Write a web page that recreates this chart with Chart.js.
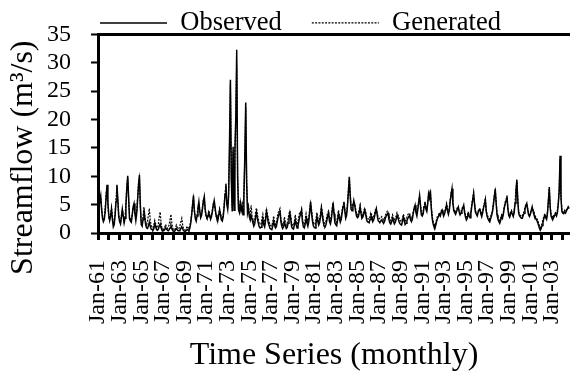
<!DOCTYPE html>
<html>
<head>
<meta charset="utf-8">
<script src="https://cdn.jsdelivr.net/npm/chart.js@4.4.1/dist/chart.umd.min.js"></script>
<style>
html,body{margin:0;padding:0;background:#fff;overflow:hidden}
canvas{display:block}
</style>
</head>
<body>
<canvas id="c" width="570" height="376"></canvas>
<script>
// Tick labels (one every 24 months starting Jan-1961)
const tickLabels = ['Jan-61','Jan-63','Jan-65','Jan-67','Jan-69','Jan-71','Jan-73','Jan-75','Jan-77','Jan-79','Jan-81',
                    'Jan-83','Jan-85','Jan-87','Jan-89','Jan-91','Jan-93','Jan-95','Jan-97','Jan-99','Jan-01','Jan-03'];
const seriesNames = ['Observed', 'Generated'];

// Monthly streamflow (m3/s), Jan-1961 onward, one row per year
const observed = [
  3.2,4.5,5.8,6.6,4.1,2.6,2.0,2.4,3.8,6.2,8.5,5.4,      // 1961
  3.1,2.2,3.0,4.1,2.4,1.1,1.5,3.2,5.6,8.5,6.0,2.9,      // 1962
  2.0,1.6,2.8,4.2,3.0,1.8,2.6,4.8,7.9,10.1,6.3,2.5,     // 1963
  2.1,1.9,3.3,4.6,5.2,3.4,2.2,3.5,5.9,8.4,10.2,5.0,     // 1964
  1.5,1.2,2.4,4.1,2.6,1.4,0.9,0.8,1.3,1.9,1.2,0.7,      // 1965
  0.6,0.5,0.8,1.7,1.1,0.6,0.5,0.7,1.2,1.6,0.9,0.5,      // 1966
  0.4,0.4,0.6,0.9,0.7,0.5,0.4,0.6,0.9,1.3,0.8,0.4,      // 1967
  0.3,0.3,0.5,0.8,0.6,0.4,0.4,0.5,0.8,1.1,0.7,0.4,      // 1968
  0.3,0.3,0.4,0.6,0.5,0.4,0.9,1.8,3.2,4.9,6.6,4.0,      // 1969
  2.6,2.1,3.0,4.4,5.5,3.9,2.7,3.1,4.3,5.6,6.4,4.2,      // 1970
  3.1,2.7,2.8,3.6,3.0,2.4,2.9,3.8,4.9,5.7,4.5,3.2,      // 1971
  2.5,2.2,3.1,4.0,3.2,2.3,2.1,2.9,4.5,6.8,8.7,5.1,      // 1972
  4.2,6.5,15.8,27.0,9.5,3.8,15.2,4.0,14.6,20.5,32.3,9.8,// 1973
  4.1,3.6,5.2,3.9,4.6,3.2,6.8,13.5,23.0,9.0,3.5,4.3,    // 1974
  2.9,2.3,3.1,2.4,1.8,1.2,1.6,2.9,3.6,2.5,1.7,1.1,      // 1975
  0.9,1.0,1.6,2.4,1.5,1.1,2.2,3.8,2.9,1.8,1.3,0.8,      // 1976
  0.7,0.6,1.2,2.1,1.4,0.9,1.1,2.0,2.8,3.4,4.0,2.1,      // 1977
  1.2,0.8,1.1,1.9,1.3,0.8,1.0,1.7,2.6,3.5,2.4,1.1,      // 1978
  0.8,0.7,1.4,2.3,1.5,0.9,1.2,2.1,2.9,3.3,4.0,2.0,      // 1979
  1.1,0.9,1.5,2.6,1.8,1.2,2.0,3.6,5.5,3.7,2.2,1.3,      // 1980
  1.0,0.9,1.7,2.9,2.1,1.4,1.8,2.8,4.3,3.2,2.0,1.2,      // 1981
  1.1,1.4,2.2,3.0,3.5,2.0,1.6,2.4,3.8,5.3,3.4,1.8,      // 1982
  1.5,1.3,2.3,3.4,2.6,1.9,2.4,3.5,4.6,5.5,3.9,2.6,      // 1983
  3.1,4.8,7.2,9.9,6.5,4.2,3.9,4.6,5.7,4.9,3.8,3.0,      // 1984
  2.7,2.9,3.6,4.6,3.4,2.6,2.8,3.3,4.1,3.5,2.5,2.0,      // 1985
  1.9,1.8,2.4,3.1,2.6,2.0,2.3,2.9,3.7,4.3,3.1,2.2,      // 1986
  2.0,1.9,2.1,2.3,2.0,1.7,2.0,2.6,3.0,3.3,3.5,2.4,      // 1987
  1.8,1.6,2.0,2.6,2.1,1.6,1.9,2.4,3.1,2.7,2.1,1.7,      // 1988
  1.5,1.4,2.0,2.8,2.2,1.5,1.7,2.2,2.6,2.9,3.1,2.3,      // 1989
  2.0,2.4,3.5,4.3,4.9,3.6,3.0,4.1,5.4,6.6,4.8,3.2,      // 1990
  3.0,3.4,4.6,5.5,4.2,3.8,5.1,6.9,6.2,7.5,4.4,2.6,      // 1991
  1.6,1.1,0.8,1.4,2.1,2.6,2.9,3.3,3.0,3.6,4.0,3.4,      // 1992
  3.1,3.5,4.2,4.9,3.9,3.3,4.0,5.6,6.8,7.8,5.2,3.9,      // 1993
  3.6,3.3,3.8,4.2,4.6,3.7,3.2,3.5,4.0,4.4,4.9,3.6,      // 1994
  2.8,2.3,2.6,3.4,3.0,2.7,3.5,4.8,5.9,6.9,5.1,3.7,      // 1995
  3.3,3.0,3.6,4.0,4.3,3.4,2.9,3.6,4.4,5.1,5.9,3.8,      // 1996
  2.9,2.5,2.2,2.0,2.6,3.1,3.8,5.0,6.4,7.8,5.3,3.2,      // 1997
  2.4,2.0,1.7,2.2,2.9,2.6,3.3,4.4,5.1,5.7,6.6,4.3,      // 1998
  3.1,2.8,3.4,3.7,3.3,2.9,3.6,5.2,7.3,9.4,5.8,3.5,      // 1999
  3.0,2.8,2.6,2.6,3.1,3.5,4.2,4.8,5.2,4.1,3.2,2.9,      // 2000
  3.3,3.9,4.6,3.8,3.2,2.9,2.5,2.3,1.9,1.4,0.9,0.5,      // 2001
  0.8,1.3,1.9,2.6,3.1,2.7,2.4,3.5,5.6,8.1,4.5,3.0,      // 2002
  2.6,2.4,2.8,3.1,3.4,3.0,3.6,5.1,7.4,13.6,6.2,3.8,     // 2003
  3.5,3.4,3.7,3.5,3.9,4.2,4.6,4.3                       // 2004 (Jan-Aug)
];

const generated = [
  2.8,3.9,5.1,6.2,4.6,3.0,2.2,2.9,4.4,6.9,8.1,4.8,      // 1961
  2.6,2.5,3.4,4.6,3.1,1.6,1.9,3.6,6.1,8.2,5.5,3.3,      // 1962
  2.4,1.9,3.1,4.0,3.3,2.1,2.9,5.2,8.4,9.6,5.8,2.9,      // 1963
  2.5,2.2,3.0,4.3,5.0,3.8,2.6,3.9,6.3,8.9,9.8,4.6,      // 1964
  2.0,1.6,2.9,4.6,3.1,1.9,1.5,2.1,3.2,4.3,2.4,1.3,      // 1965
  1.0,0.9,1.4,2.2,1.6,1.0,0.9,1.6,2.8,3.7,1.9,0.9,      // 1966
  0.7,0.6,1.0,1.5,1.1,0.8,0.9,1.5,2.4,3.3,1.6,0.8,      // 1967
  0.6,0.5,0.9,1.4,1.0,0.7,0.8,1.3,2.0,2.6,1.4,0.7,      // 1968
  0.6,0.5,0.8,1.2,0.9,0.7,1.3,2.2,3.5,5.2,6.2,3.6,      // 1969
  2.9,2.4,3.3,4.7,5.2,3.5,3.0,3.5,4.6,5.9,6.1,3.9,      // 1970
  2.8,2.5,3.1,3.9,3.3,2.7,3.2,4.1,5.2,5.4,4.1,3.0,      // 1971
  2.7,2.5,3.4,4.3,3.5,2.6,2.4,3.3,4.8,7.1,8.3,4.8,      // 1972
  4.6,7.0,15.2,26.3,10.2,4.4,14.3,4.8,13.9,19.8,29.6,10.5, // 1973
  4.7,4.2,5.8,4.5,5.2,3.8,7.3,12.8,22.1,9.6,4.2,4.9,    // 1974
  3.6,2.9,4.9,3.1,2.4,1.9,2.3,3.8,4.4,3.2,2.5,1.7,      // 1975
  1.5,1.6,2.5,3.3,2.2,1.6,2.9,4.3,3.5,2.6,2.0,1.4,      // 1976
  1.3,1.2,2.0,3.0,2.1,1.5,1.8,2.8,3.6,3.9,4.3,2.7,      // 1977
  1.8,1.4,1.9,2.8,2.0,1.4,1.7,2.5,3.4,3.9,3.0,1.7,      // 1978
  1.4,1.3,2.1,3.2,2.2,1.5,1.9,2.9,3.7,3.6,4.2,2.5,      // 1979
  1.7,1.5,2.3,3.4,2.5,1.8,2.7,4.2,5.3,4.2,2.8,1.9,      // 1980
  1.6,1.5,2.4,3.6,2.8,2.0,2.5,3.5,4.7,3.8,2.6,1.8,      // 1981
  1.7,2.0,2.9,3.6,3.9,2.6,2.2,3.1,4.3,5.1,3.8,2.4,      // 1982
  2.1,1.9,2.9,4.0,3.2,2.5,3.0,4.1,5.0,5.2,4.3,3.1,      // 1983
  3.5,5.3,7.8,9.6,7.0,4.7,4.4,5.1,5.4,5.2,4.3,3.5,      // 1984
  3.2,3.4,4.1,4.9,3.9,3.1,3.3,3.8,4.4,3.9,3.0,2.6,      // 1985
  2.5,2.4,3.0,3.6,3.1,2.6,2.9,3.4,4.1,4.0,3.5,2.8,      // 1986
  2.6,2.5,2.7,2.9,2.6,2.3,2.6,3.1,3.5,3.8,3.3,2.9,      // 1987
  2.4,2.2,2.6,3.2,2.7,2.2,2.5,3.0,3.6,3.2,2.7,2.3,      // 1988
  2.1,2.0,2.6,3.3,2.8,2.1,2.3,2.8,3.2,3.5,3.4,2.9,      // 1989
  2.6,2.9,3.8,4.6,4.7,3.9,3.4,4.4,5.6,6.4,5.1,3.6,      // 1990
  3.4,3.8,4.9,5.2,4.6,4.1,5.4,6.6,6.5,7.2,4.8,3.0,      // 1991
  2.1,1.6,1.3,1.9,2.5,3.0,3.2,3.6,3.4,3.9,4.2,3.7,      // 1992
  3.4,3.8,4.5,5.2,4.2,3.6,4.3,5.8,7.1,7.5,5.5,4.2,      // 1993
  3.9,3.6,4.1,4.5,4.3,3.9,3.5,3.8,4.3,4.7,4.6,3.9,      // 1994
  3.2,2.8,3.0,3.7,3.4,3.1,3.8,5.0,6.2,7.2,5.4,4.0,      // 1995
  3.6,3.3,3.9,4.3,4.1,3.7,3.3,3.9,4.7,5.3,6.1,4.1,      // 1996
  3.2,2.9,2.6,2.5,3.0,3.4,4.1,5.3,6.7,7.5,5.6,3.5,      // 1997
  2.8,2.4,2.2,2.6,3.2,2.9,3.6,4.7,5.4,6.0,6.3,4.6,      // 1998
  3.4,3.1,3.7,4.0,3.6,3.2,3.9,5.5,7.6,9.1,6.1,3.8,      // 1999
  3.3,3.1,2.9,3.0,3.4,3.8,4.5,5.1,5.0,4.4,3.5,3.2,      // 2000
  3.6,4.2,4.4,4.1,3.5,3.2,2.8,2.6,2.3,1.8,1.3,0.9,      // 2001
  1.2,1.7,2.3,2.9,3.4,3.0,2.7,3.8,5.9,7.8,4.8,3.3,      // 2002
  2.9,2.7,3.1,3.4,3.6,3.3,3.9,5.4,7.7,13.1,6.5,4.1,     // 2003
  3.8,3.6,4.0,3.8,4.1,4.4,4.5,4.6                       // 2004 (Jan-Aug)
];

const FONT = "'Liberation Serif', 'Times New Roman', Times, serif";

new Chart(document.getElementById('c'), {
  type: 'line',
  data: {
    datasets: [
      { label: seriesNames[0], data: observed.map((v, i) => ({ x: i, y: v })),
        borderColor: '#000', backgroundColor: '#000', borderWidth: 1.5, borderDash: [],
        pointRadius: 0, pointHoverRadius: 0, pointStyle: 'line', tension: 0, fill: false },
      { label: seriesNames[1], data: generated.map((v, i) => ({ x: i, y: v })),
        borderColor: '#000', backgroundColor: '#000', borderWidth: 1.2, borderDash: [2, 1.3],
        pointRadius: 0, pointHoverRadius: 0, pointStyle: 'line', tension: 0, fill: false }
    ]
  },
  options: {
    responsive: false,
    animation: false,
    devicePixelRatio: 1,
    layout: { padding: { left: 0, right: -31, top: -22.7, bottom: 0 } },
    plugins: {
      tooltip: { enabled: false },
      legend: {
        display: true, position: 'top', align: 'center', maxHeight: 54.7,
        labels: {
          usePointStyle: true, pointStyleWidth: 67, padding: 30, color: '#000',
          font: { family: FONT, size: 26.5 },
          generateLabels: (chart) => Chart.defaults.plugins.legend.labels.generateLabels(chart).map(it => {
            const ds = chart.data.datasets[it.datasetIndex];
            return Object.assign(it, { lineDash: ds.borderDash || [], lineWidth: ds.borderWidth,
              strokeStyle: ds.borderColor, pointStyle: 'line' });
          })
        }
      }
    },
    scales: {
      x: {
        type: 'linear', min: 0, max: 524,
        border: { display: true, color: '#000', width: 3 },
        grid: { display: true, drawOnChartArea: false, drawTicks: true, tickLength: 7, tickColor: '#000', tickWidth: 3 },
        ticks: {
          stepSize: 12, includeBounds: false, autoSkip: false, maxRotation: 90, minRotation: 90,
          padding: 20, color: '#000', font: { family: FONT, size: 24 },
          callback: (v) => (v % 24 === 0 ? (tickLabels[v / 24] ?? '') : '')
        },
        title: { display: true, text: 'Time Series (monthly)', color: '#000',
          font: { family: FONT, size: 32 }, padding: { top: 0, bottom: 1 } },
        afterFit: (s) => { s.height = 143; s.paddingLeft = 0; s.paddingRight = 0; }
      },
      y: {
        min: 0, max: 35,
        border: { display: true, color: '#000', width: 3 },
        grid: {
          color: (c) => (c.tick && c.tick.value === 35 ? '#000' : 'rgba(0,0,0,0)'),
          lineWidth: 3, tickColor: '#000', tickLength: 7, tickWidth: 2
        },
        ticks: { stepSize: 5, autoSkip: false, padding: 20, color: '#000', font: { family: FONT, size: 24 } },
        title: { display: true, text: 'Streamflow (m³/s)      ', color: '#000',
          font: { family: FONT, size: 32 }, padding: { top: 4, bottom: 0 } },
        afterFit: (s) => { s.width = 98; }
      }
    }
  }
});
</script>
</body>
</html>
